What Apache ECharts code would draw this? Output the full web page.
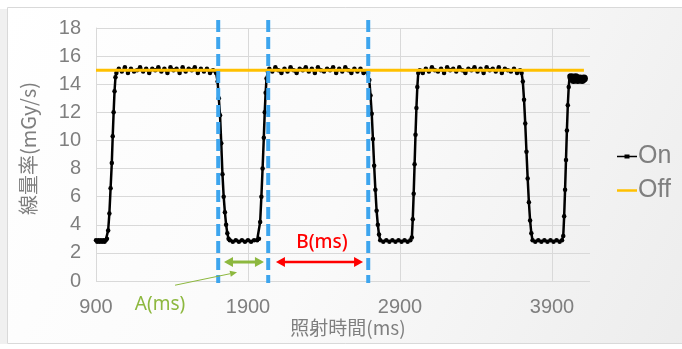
<!DOCTYPE html>
<html><head><meta charset="utf-8">
<script src="https://cdn.jsdelivr.net/npm/echarts@6/dist/echarts.min.js"></script>
<style>html,body{margin:0;padding:0;background:#fff}#c{width:682px;height:349px}</style>
</head><body><div id="c"></div>
<script>
// ---- data ----
const xTickValues = [900, 1900, 2900, 3900];
const yTickValues = [0, 2, 4, 6, 8, 10, 12, 14, 16, 18];
const seriesNames = ['On', 'Off'];
const onData = [
  [900,2.9],[908,2.8],[916,2.9],[924,2.8],[932,2.9],[940,2.8],[948,2.9],[956,2.8],[964,2.9],[972,3.0],
  [980,3.6],[988,4.8],[996,6.6],[1004,8.4],[1010,10.3],[1016,12.0],[1022,13.5],[1028,14.5],[1034,14.8],
  [1050,15.1],[1070,14.9],[1090,15.2],[1110,14.8],[1130,15.1],[1150,14.9],[1170,15.0],[1190,15.2],[1210,14.9],[1230,15.1],
  [1250,14.8],[1270,15.1],[1290,15.0],[1310,15.2],[1330,14.9],[1350,15.1],[1370,14.8],[1390,15.2],[1410,15.0],[1430,15.1],
  [1450,14.8],[1470,15.2],[1490,14.9],[1510,15.1],[1530,15.0],[1550,15.2],[1570,14.8],[1590,15.1],[1610,14.9],[1630,15.1],
  [1650,14.8],[1670,15.0],[1690,14.8],
  [1700,14.2],[1708,13.0],[1716,11.8],[1724,9.8],[1732,7.6],[1740,6.0],[1748,4.9],[1756,4.0],[1764,3.4],[1772,3.0],
  [1780,2.9],[1800,2.8],[1820,2.9],[1840,2.8],[1860,2.9],[1880,2.8],[1900,2.9],[1920,2.8],[1940,2.9],[1960,2.9],[1972,3.0],
  [1980,4.2],[1988,6.0],[1996,8.0],[2004,10.2],[2010,12.0],[2016,13.4],[2022,14.4],[2030,14.9],
  [2040,15.1],[2060,14.9],[2080,15.2],[2100,15.0],[2120,14.8],[2140,15.1],[2160,14.9],[2180,15.2],[2200,15.0],[2220,14.8],
  [2240,15.1],[2260,15.0],[2280,15.2],[2300,14.9],[2320,15.1],[2340,14.8],[2360,15.2],[2380,15.0],[2400,14.9],[2420,15.1],
  [2440,15.0],[2460,15.2],[2480,14.8],[2500,15.1],[2520,14.9],[2540,15.2],[2560,15.0],[2580,14.8],[2600,15.1],[2620,14.9],
  [2640,15.1],[2660,14.8],[2680,14.9],[2690,14.8],
  [2698,14.3],[2706,13.2],[2714,11.9],[2722,10.1],[2730,8.2],[2738,6.5],[2746,5.0],[2754,4.0],[2762,3.3],[2770,2.9],
  [2790,2.8],[2810,2.9],[2830,2.8],[2850,2.9],[2870,2.8],[2890,2.9],[2910,2.8],[2930,2.9],[2950,2.8],[2968,2.9],[2978,3.1],
  [2984,4.4],[2990,6.2],[2996,8.3],[3002,10.4],[3008,12.3],[3014,13.8],[3020,14.8],
  [3030,15.0],[3050,14.8],[3070,15.1],[3090,14.9],[3110,15.2],[3130,15.0],[3150,14.9],[3170,15.1],[3190,14.8],[3210,15.2],
  [3230,15.0],[3250,15.1],[3270,14.9],[3290,15.2],[3310,15.0],[3330,14.8],[3350,15.1],[3370,15.0],[3390,15.2],[3410,14.9],
  [3430,15.1],[3450,14.8],[3470,15.2],[3490,15.0],[3510,15.1],[3530,14.9],[3550,15.2],[3570,14.8],[3590,15.1],[3610,15.0],
  [3630,14.9],[3650,15.1],[3670,14.8],[3690,15.0],[3700,14.8],
  [3708,14.2],[3716,12.9],[3724,11.2],[3732,9.2],[3740,7.3],[3748,5.6],[3756,4.3],[3764,3.4],[3772,2.9],
  [3790,2.8],[3810,2.9],[3830,2.8],[3850,2.9],[3870,2.8],[3890,2.9],[3910,2.8],[3930,2.9],[3950,2.8],[3966,2.9],[3974,3.2],
  [3980,4.6],[3986,6.5],[3992,8.6],[3998,10.7],[4004,12.5],[4010,13.8],[4016,14.6],
  [4028,14.5],[4042,14.3],[4056,14.5],[4070,14.3],[4084,14.4],[4098,14.3],[4110,14.4]
];
const offData = [[900,15],[4110,15]];
const guideTimes = [1704, 2033, 2691];
const arrowA = [[1742,1.35],[2005,1.35]];
const arrowB = [[2084,1.35],[2657,1.35]];
const pointerA = [[1420,-0.3],[1828,0.62]];
const labelA = {text:'A(ms)', at:[1321,-1.7]};
const labelB = {text:'B(ms)', at:[2387,2.75]};
const xTitle = '照射時間(ms)';
const yTitle = '線量率(mGy/s)';

// ---- chart ----
const chart = echarts.init(document.getElementById('c'), null, {renderer:'canvas'});
const tickFont = '"Liberation Sans Narrow","Liberation Sans",sans-serif';
const cjkFont = '"Noto Sans CJK JP","Noto Sans",sans-serif';
const gray = '#7f7f7f';
const lastBig = 7;
const onSeriesData = onData.map((d,i)=> i >= onData.length - lastBig ? {value:d, symbolSize:8} : d);

function renderAnnot(params, api){
  const ch = [];
  guideTimes.forEach(t=>{
    const top = api.coord([t,18]), bot = api.coord([t,0]);
    ch.push({type:'line', shape:{x1:top[0],y1:top[1]-8,x2:bot[0],y2:bot[1]+2},
      style:{stroke:'#3DA5EE', lineWidth:4, lineDash:[12,5]}});
  });
  function dbl(a,b,color,w,head){
    const p = api.coord(a), q = api.coord(b);
    ch.push({type:'line', shape:{x1:p[0]+head-1,y1:p[1],x2:q[0]-head+1,y2:q[1]}, style:{stroke:color, lineWidth:w}});
    const hw = head*0.55;
    ch.push({type:'polygon', shape:{points:[[p[0],p[1]],[p[0]+head,p[1]-hw],[p[0]+head,p[1]+hw]]}, style:{fill:color}});
    ch.push({type:'polygon', shape:{points:[[q[0],q[1]],[q[0]-head,q[1]-hw],[q[0]-head,q[1]+hw]]}, style:{fill:color}});
  }
  dbl(arrowA[0], arrowA[1], '#8DB83F', 3, 9);
  dbl(arrowB[0], arrowB[1], '#FF0000', 2.5, 9);
  const s = api.coord(pointerA[0]), e = api.coord(pointerA[1]);
  const dx = e[0]-s[0], dy = e[1]-s[1], L = Math.hypot(dx,dy), ux = dx/L, uy = dy/L;
  const h = 7, hw = 3;
  const bx = e[0]-ux*h, by = e[1]-uy*h;
  ch.push({type:'line', shape:{x1:s[0],y1:s[1],x2:bx,y2:by}, style:{stroke:'#8DB83F', lineWidth:1}});
  ch.push({type:'polygon', shape:{points:[[e[0],e[1]],[bx-uy*hw,by+ux*hw],[bx+uy*hw,by-ux*hw]]}, style:{fill:'#8DB83F'}});
  const la = api.coord(labelA.at), lb = api.coord(labelB.at);
  ch.push({type:'text', style:{text:labelA.text, x:la[0], y:la[1], fill:'#8DB83F', fontSize:19, fontFamily:'"Noto Sans",sans-serif', align:'center', verticalAlign:'middle'}});
  ch.push({type:'text', style:{text:labelB.text, x:lb[0], y:lb[1], fill:'#FF0000', fontSize:19, fontFamily:'"Noto Sans",sans-serif', fontWeight:500, align:'center', verticalAlign:'middle'}});
  return {type:'group', children:ch};
}

const onIcon = 'path://M0,4.2 L7.5,4.2 L7.5,3 L12.5,3 L12.5,4.2 L20,4.2 L20,5.8 L12.5,5.8 L12.5,7 L7.5,7 L7.5,5.8 L0,5.8 Z M0,0 L0.01,0 L0.01,0.01 Z M0,10 L0.01,10 L0.01,9.99 Z';
const offIcon = 'path://M0,3.7 L20,3.7 L20,6.3 L0,6.3 Z M0,0 L0.01,0 L0.01,0.01 Z M0,10 L0.01,10 L0.01,9.99 Z';

const option = {
  animation:false,
  backgroundColor:'#ffffff',
  graphic:[
    {type:'rect', z:-10, shape:{x:0,y:9,width:7,height:335}, style:{fill:'#f0f0f0'}},
    {type:'rect', z:-9, shape:{x:7.5,y:7.5,width:690,height:336},
      style:{stroke:'#d9d9d9', lineWidth:1,
        fill:new echarts.graphic.LinearGradient(0,0,1,1,[{offset:0,color:'#ffffff'},{offset:0.5,color:'#fafafa'},{offset:1,color:'#ececec'}])}}
  ],
  grid:{left:96, right:92, top:28, bottom:68, containLabel:false},
  legend:{
    data:[{name:seriesNames[0], icon:onIcon, itemStyle:{color:'#000000'}},
          {name:seriesNames[1], icon:offIcon, itemStyle:{color:'#FFC000'}}],
    orient:'vertical', left:612, top:139, itemGap:9,
    itemWidth:20, itemHeight:10,
    textStyle:{color:gray, fontSize:25, fontFamily:tickFont, padding:[0,0,0,-4]}
  },
  xAxis:{
    type:'value', min:xTickValues[0], max:4150, interval:1000,
    name:xTitle, nameLocation:'middle', nameGap:37, nameMoveOverlap:false,
    nameTextStyle:{color:gray, fontSize:19, fontFamily:cjkFont, padding:[0,0,0,10]},
    axisLine:{show:false}, axisTick:{show:false},
    axisLabel:{color:gray, fontSize:20, fontFamily:tickFont, margin:16, showMaxLabel:false,
      formatter:v=> xTickValues.indexOf(v) >= 0 ? String(v) : ''},
    splitLine:{show:true, lineStyle:{color:['#d9d9d9','#d9d9d9','#d9d9d9','#d9d9d9','rgba(0,0,0,0)'], width:1}}
  },
  yAxis:{
    type:'value', min:yTickValues[0], max:yTickValues[yTickValues.length-1], interval:2,
    name:yTitle, nameLocation:'middle', nameGap:58, nameMoveOverlap:false,
    nameTextStyle:{color:gray, fontSize:20, fontFamily:cjkFont, padding:[0,0,0,12]},
    axisLine:{show:true, lineStyle:{color:'#d9d9d9'}}, axisTick:{show:false},
    axisLabel:{color:gray, fontSize:20, fontFamily:tickFont, margin:15},
    splitLine:{show:true, lineStyle:{color:'#d9d9d9', width:1}}
  },
  series:[
    {name:seriesNames[0], type:'line', data:onSeriesData, z:2,
      symbol:'circle', symbolSize:4.5, showSymbol:true,
      itemStyle:{color:'#000000'}, lineStyle:{color:'#000000', width:2.5}},
    {name:seriesNames[1], type:'line', data:offData, z:3,
      symbol:'none', itemStyle:{color:'#FFC000'}, lineStyle:{color:'#FFC000', width:3}},
    {name:'annot', type:'custom', data:[[0]], z:5, clip:false, silent:true,
      renderItem:renderAnnot}
  ]
};
chart.setOption(option);
</script>
</body></html>
